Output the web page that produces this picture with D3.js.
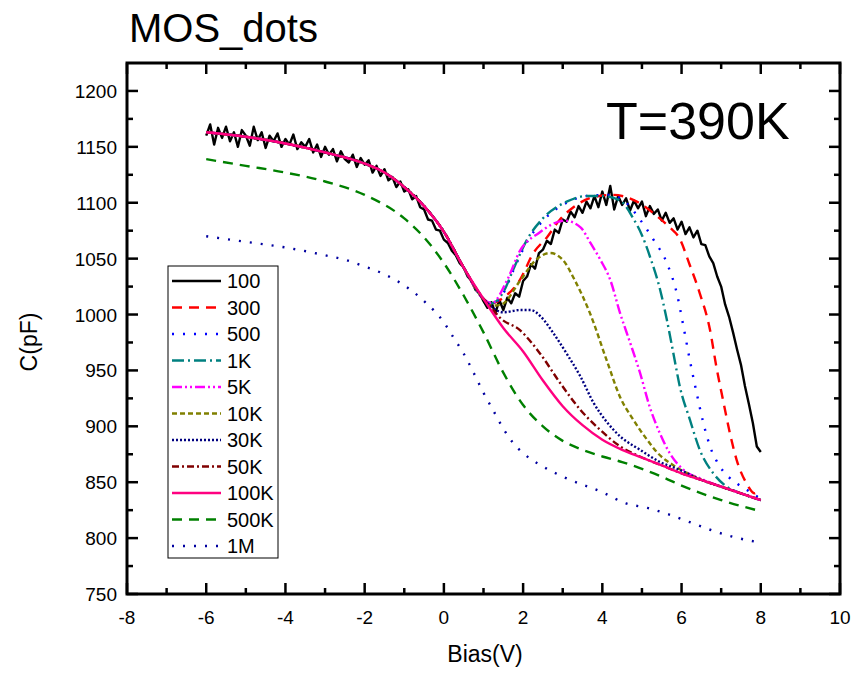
<!DOCTYPE html>
<html>
<head>
<meta charset="utf-8">
<script src="https://cdn.jsdelivr.net/npm/d3@7"></script>
<style>
  body { margin: 0; background: #fff; }
  svg { font-family: "Liberation Sans", Arial, sans-serif; }
</style>
</head>
<body>
<svg id="chart" width="858" height="673"></svg>
<script>
// frequencies shown in the legend
const labels = ["100", "300", "500", "1K", "5K", "10K", "30K", "50K", "100K", "500K", "1M"];

// shared low-bias part (all curves from 100 Hz to 100 kHz follow it)
const upper = [[-6, 1163], [-5, 1159], [-4, 1153], [-3, 1145], [-2, 1135], [-1.5, 1127],
  [-1, 1114], [-0.5, 1097], [0, 1074], [0.5, 1042], [1, 1014]];

// 100 Hz trace, read every 0.1 V from -6 to 8 (noisy)
const c100 = [1160, 1170, 1152, 1167, 1158, 1168, 1155, 1163, 1150, 1165,
  1160, 1151, 1168, 1156, 1163, 1149, 1160, 1155, 1162, 1150,
  1157, 1152, 1161, 1148, 1154, 1150, 1157, 1145, 1152, 1141,
  1150, 1143, 1148, 1137, 1146, 1139, 1136, 1143, 1132, 1140,
  1134, 1138, 1127, 1133, 1124, 1130, 1120, 1123, 1114, 1119,
  1110, 1112, 1103, 1106, 1096, 1094, 1085, 1084, 1076, 1075,
  1067, 1064, 1057, 1053, 1046, 1042, 1034, 1030, 1022, 1019,
  1012, 1006, 1011, 1001, 1013, 1004, 1015, 1010, 1019, 1016,
  1030, 1034, 1045, 1041, 1055, 1058, 1066, 1063, 1076, 1073,
  1085, 1083, 1092, 1087, 1097, 1091, 1101, 1095, 1106, 1096,
  1110, 1098, 1115, 1094, 1106, 1098, 1104, 1093, 1102, 1095,
  1101, 1088, 1097, 1090, 1094, 1084, 1091, 1082, 1086, 1076,
  1083, 1072, 1078, 1069, 1075, 1063, 1062, 1052, 1046, 1034,
  1025, 1009, 998, 984, 969, 955, 936, 920, 903, 882, 877];
const bias100 = d3.range(141).map(i => -6 + i * 0.1);

const c300 = [[1.2, 1010], [1.5, 1015], [1.92, 1031], [2.26, 1055], [2.6, 1069], [2.93, 1085],
  [3.27, 1096], [3.77, 1105], [4.27, 1107], [4.87, 1101], [5.38, 1088], [5.7, 1078],
  [5.95, 1068], [6.2, 1045], [6.46, 1019], [6.72, 986], [6.88, 953], [7.05, 923],
  [7.22, 894], [7.39, 870], [7.64, 849], [7.85, 840], [7.95, 843]];
const c500 = [[1.2, 1009], [1.5, 1019], [1.76, 1040], [2.1, 1065], [2.5, 1084], [3.1, 1100],
  [3.6, 1106], [4.2, 1107], [4.6, 1100], [4.95, 1085], [5.29, 1067], [5.63, 1046],
  [5.88, 1019], [6.05, 989], [6.21, 959], [6.38, 930], [6.55, 903], [6.72, 882],
  [6.97, 864], [7.39, 849], [7.7, 842], [8, 835]];
const c1k = [[1.2, 1010], [1.5, 1020], [1.76, 1041], [2.1, 1067], [2.5, 1086], [3.1, 1101],
  [3.6, 1106], [4.0, 1106], [4.45, 1102], [4.78, 1086], [5.0, 1071], [5.21, 1051],
  [5.46, 1022], [5.63, 995], [5.79, 966], [5.96, 935], [6.21, 906], [6.46, 879],
  [6.8, 858], [7.14, 846], [7.5, 840], [8, 834]];
const c5k = [[1.2, 1010], [1.6, 1031], [1.92, 1057], [2.4, 1073], [3.05, 1084], [3.45, 1078],
  [3.7, 1064], [3.95, 1049], [4.2, 1031], [4.45, 1001], [4.7, 975], [4.95, 948],
  [5.2, 917], [5.45, 894], [5.7, 876], [6.05, 861], [6.5, 853], [7, 846], [7.5, 840], [8, 834]];
const c10k = [[1.2, 1008], [1.45, 1009], [1.92, 1030], [2.3, 1048], [2.68, 1055], [3.0, 1049],
  [3.3, 1031], [3.69, 1001], [4.12, 958], [4.45, 926], [4.78, 906], [5.13, 888],
  [5.4, 876], [5.8, 865], [6.2, 857], [6.5, 852], [7, 846], [7.5, 840], [8, 834]];
const c30k = [[1.2, 1007], [1.5, 1002], [1.92, 1004], [2.2, 1004], [2.45, 998], [2.77, 983],
  [3.1, 965], [3.44, 945], [3.78, 921], [4.11, 904], [4.45, 891], [4.95, 879],
  [5.46, 868], [5.96, 861], [6.5, 852], [7, 846], [7.5, 840], [8, 834]];
const c50k = [[1.2, 1006], [1.42, 997], [1.92, 986], [2.43, 965], [2.93, 939], [3.44, 915],
  [3.94, 897], [4.45, 882], [4.95, 873], [5.5, 865], [6, 858], [6.5, 852],
  [7, 846], [7.5, 840], [8, 834]];
const c100k = [[1.5, 988], [2, 967], [2.5, 941], [3, 918], [3.5, 901], [4, 888], [4.5, 879],
  [5, 872], [5.5, 865], [6, 858], [6.5, 852], [7, 846], [7.5, 840], [8, 834]];
const c500k = [[-6, 1139], [-5, 1133], [-4, 1127], [-3, 1119], [-2, 1107], [-1, 1086],
  [-0.5, 1069], [0, 1046], [0.5, 1017], [1, 984], [1.5, 948], [2, 919], [2.5, 900],
  [3, 887], [3.5, 879], [4, 873], [4.5, 868], [5, 862], [5.5, 855], [6, 847],
  [7, 834], [8, 824]];
const c1m = [[-6, 1070], [-5, 1065], [-4, 1060], [-3, 1053], [-2.5, 1049], [-2, 1043],
  [-1.5, 1036], [-1, 1026], [-0.5, 1012], [0, 993], [0.25, 979], [0.5, 965], [0.75, 948],
  [1, 930], [1.25, 914], [1.5, 898], [1.75, 885], [2, 876], [2.5, 864], [3, 855],
  [4, 841], [4.6, 831], [5.14, 827], [5.69, 821], [6.23, 814], [6.76, 807],
  [7.31, 801], [7.84, 797]];

const xTicks = [-8, -6, -4, -2, 0, 2, 4, 6, 8, 10];
const xMinor = [-7, -5, -3, -1, 1, 3, 5, 7, 9];
const yTicks = [750, 800, 850, 900, 950, 1000, 1050, 1100, 1150, 1200];
const yMinor = [775, 825, 875, 925, 975, 1025, 1075, 1125, 1175];

// line styles, in legend order
const colors = ["#000000", "#ff0000", "#0000ff", "#008080", "#ff00ff", "#808000",
  "#000080", "#800000", "#ff0080", "#008000", "#0000a0"];
const dashes = [null, "10,7", "2,9", "12,4,2,4", "10,3,2,3,2,3", "5,3",
  "2,2", "7,3,2,3", null, "10,7", "2,9"];

const series = [
  bias100.map((v, i) => [v, c100[i]]),
  upper.concat(c300), upper.concat(c500), upper.concat(c1k), upper.concat(c5k),
  upper.concat(c10k), upper.concat(c30k), upper.concat(c50k), upper.concat(c100k),
  c500k, c1m
];

const svg = d3.select("#chart");
const x = d3.scaleLinear().domain([-8, 10]).range([127, 840]);
const y = d3.scaleLinear().domain([750, 1225]).range([594, 63]);
const [x0, x1] = x.range();
const [y0, y1] = y.range();

svg.append("defs").append("clipPath").attr("id", "clip").append("rect")
  .attr("x", x0).attr("y", y1).attr("width", x1 - x0).attr("height", y0 - y1);

const line = d3.line().x(d => x(d[0])).y(d => y(d[1]));
const g = svg.append("g").attr("clip-path", "url(#clip)");
series.forEach((s, i) => {
  g.append("path")
    .datum(s)
    .attr("fill", "none")
    .attr("stroke", colors[i])
    .attr("stroke-width", 2.4)
    .attr("stroke-dasharray", dashes[i])
    .attr("stroke-linejoin", "round")
    .attr("d", line.curve(i === 0 ? d3.curveLinear : d3.curveMonotoneX));
});

// frame and inward ticks on all four sides
svg.append("rect").attr("x", x0).attr("y", y1).attr("width", x1 - x0).attr("height", y0 - y1)
  .attr("fill", "none").attr("stroke", "#000").attr("stroke-width", 3);
const ticks = svg.append("g");
function tick(xa, ya, xb, yb) {
  ticks.append("line").attr("x1", xa).attr("y1", ya).attr("x2", xb).attr("y2", yb)
    .attr("stroke", "#000").attr("stroke-width", 2.5);
}
xTicks.forEach(v => { tick(x(v), y0, x(v), y0 - 11); tick(x(v), y1, x(v), y1 + 11); });
xMinor.forEach(v => { tick(x(v), y0, x(v), y0 - 6); tick(x(v), y1, x(v), y1 + 6); });
yTicks.forEach(v => { tick(x0, y(v), x0 + 11, y(v)); tick(x1, y(v), x1 - 11, y(v)); });
yMinor.forEach(v => { tick(x0, y(v), x0 + 6, y(v)); tick(x1, y(v), x1 - 6, y(v)); });

svg.append("g").selectAll("text").data(xTicks).join("text")
  .attr("x", d => x(d)).attr("y", 624).attr("text-anchor", "middle")
  .attr("font-size", 19).text(d => String(d));
svg.append("g").selectAll("text").data(yTicks).join("text")
  .attr("x", 117).attr("y", d => y(d) + 7).attr("text-anchor", "end")
  .attr("font-size", 19).text(d => String(d));

// titles
svg.append("text").attr("x", 129).attr("y", 42).attr("font-size", 40).text("MOS_dots");
svg.append("text").attr("x", 606).attr("y", 139).attr("font-size", 52).text("T=390K");
svg.append("text").attr("x", 485).attr("y", 662).attr("font-size", 23)
  .attr("text-anchor", "middle").text("Bias(V)");
svg.append("text").attr("transform", "translate(37,342) rotate(-90)")
  .attr("font-size", 23).attr("text-anchor", "middle").text("C(pF)");

// legend
const leg = svg.append("g");
leg.append("rect").attr("x", 168).attr("y", 266).attr("width", 110).attr("height", 292)
  .attr("fill", "#fff").attr("stroke", "#000").attr("stroke-width", 1);
labels.forEach((lab, i) => {
  const cy = 281 + i * 26.5;
  leg.append("line").attr("x1", 172).attr("x2", 221).attr("y1", cy).attr("y2", cy)
    .attr("stroke", colors[i]).attr("stroke-width", 2.4)
    .attr("stroke-dasharray", dashes[i]);
  leg.append("text").attr("x", 227).attr("y", cy + 7).attr("font-size", 20).text(lab);
});
</script>
</body>
</html>
